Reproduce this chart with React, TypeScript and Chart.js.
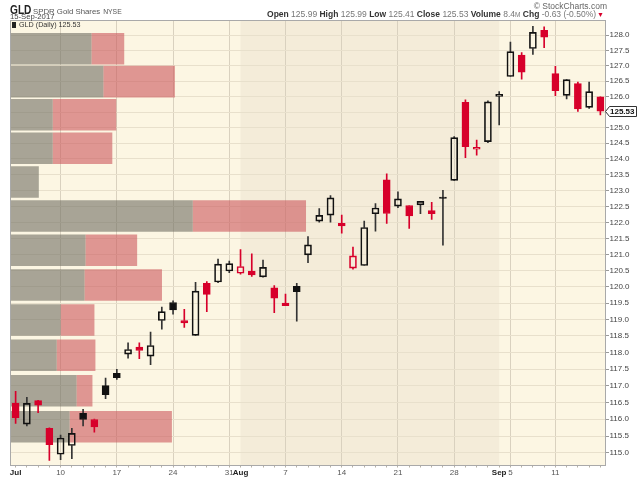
import React, { useEffect, useRef } from 'react';
import { Chart, registerables } from 'chart.js';

Chart.register(...registerables);

const FONT = '"Liberation Sans", Arial, sans-serif';

// ---- Data ----
const dates = [
  '2017-07-03', '2017-07-05', '2017-07-06', '2017-07-07', '2017-07-10', '2017-07-11', '2017-07-12',
  '2017-07-13', '2017-07-14', '2017-07-17', '2017-07-18', '2017-07-19', '2017-07-20', '2017-07-21',
  '2017-07-24', '2017-07-25', '2017-07-26', '2017-07-27', '2017-07-28', '2017-07-31',
  '2017-08-01', '2017-08-02', '2017-08-03', '2017-08-04', '2017-08-07', '2017-08-08', '2017-08-09',
  '2017-08-10', '2017-08-11', '2017-08-14', '2017-08-15', '2017-08-16', '2017-08-17', '2017-08-18',
  '2017-08-21', '2017-08-22', '2017-08-23', '2017-08-24', '2017-08-25', '2017-08-28', '2017-08-29',
  '2017-08-30', '2017-08-31',
  '2017-09-01', '2017-09-05', '2017-09-06', '2017-09-07', '2017-09-08', '2017-09-11', '2017-09-12',
  '2017-09-13', '2017-09-14', '2017-09-15',
];

const openP = [
  116.48, 115.85, 116.55, 115.73, 114.96, 115.22, 116.17, 115.99, 117.00, 117.37,
  117.95, 118.16, 117.89, 118.97, 119.52, 118.97, 118.52, 120.11, 120.15, 120.49,
  120.42, 120.49, 120.31, 119.97, 119.42, 120.02, 120.99, 122.04, 122.23, 121.97,
  120.58, 120.66, 122.27, 123.34, 122.51, 122.53, 122.55, 122.37, 122.75, 123.32,
  125.81, 124.31, 124.55, 126.00, 126.65, 127.35, 127.56, 128.16, 126.74, 126.04,
  126.42, 125.65, 125.99,
];
const highP = [
  116.83, 116.65, 116.56, 115.74, 115.53, 115.73, 116.29, 116.00, 117.23, 117.49,
  118.29, 118.29, 118.62, 119.38, 119.57, 119.31, 120.14, 120.16, 120.86, 120.80,
  121.15, 121.02, 120.83, 120.04, 119.78, 120.11, 121.56, 122.43, 122.84, 122.23,
  121.23, 122.04, 122.59, 123.53, 122.96, 122.53, 122.66, 122.63, 123.01, 124.71,
  125.89, 124.60, 125.86, 126.16, 127.77, 127.43, 128.29, 128.27, 126.98, 126.55,
  126.47, 126.47, 125.99,
];
const lowP = [
  115.87, 115.80, 116.19, 114.78, 114.80, 114.83, 115.80, 115.61, 116.61, 117.19,
  117.83, 117.81, 117.63, 118.71, 119.16, 118.76, 118.52, 119.24, 120.13, 120.44,
  120.39, 120.32, 120.30, 119.21, 119.42, 118.95, 120.75, 122.01, 122.01, 121.66,
  120.55, 120.66, 121.73, 121.97, 122.46, 121.81, 122.27, 122.09, 121.29, 123.32,
  124.04, 124.12, 124.52, 125.09, 126.65, 126.56, 127.37, 127.59, 126.03, 125.92,
  125.52, 125.62, 125.41,
];
const closeP = [
  116.04, 116.47, 116.42, 115.24, 115.44, 115.58, 115.99, 115.77, 116.73, 117.24,
  118.09, 118.06, 118.21, 119.24, 119.29, 118.90, 119.87, 119.77, 120.70, 120.72,
  120.63, 120.37, 120.60, 119.65, 119.50, 119.85, 121.30, 122.22, 122.77, 121.89,
  120.96, 121.84, 122.45, 122.28, 122.74, 122.20, 122.66, 122.27, 122.75, 124.68,
  124.39, 124.37, 125.83, 126.07, 127.46, 126.79, 128.09, 127.93, 126.19, 126.55,
  125.60, 126.16, 125.53,
];
const priorClose = 118.02;

// Volume-by-price zones, lowest zone first (millions of shares)
const vbpUpVolume = [6.0, 6.7, 4.7, 5.1, 7.5, 7.6, 18.4, 2.9, 4.3, 4.3, 9.4, 8.2];
const vbpDownVolume = [10.3, 1.6, 3.9, 3.4, 7.8, 5.2, 11.4, 0, 6.0, 6.4, 7.2, 3.3];

const xTickDates = [
  '2017-07-03', '2017-07-10', '2017-07-17', '2017-07-24', '2017-07-31', '2017-08-01', '2017-08-07',
  '2017-08-14', '2017-08-21', '2017-08-28', '2017-09-01', '2017-09-05', '2017-09-11',
];
const xTickLabels = ['Jul', '10', '17', '24', '31', 'Aug', '7', '14', '21', '28', 'Sep', '5', '11'];
const monthNames = ['Jul', 'Aug', 'Sep'];
const shadeFrom = '2017-08-01';
const shadeTo = '2017-09-01';

const yTicks = [
  115.0, 115.5, 116.0, 116.5, 117.0, 117.5, 118.0, 118.5, 119.0, 119.5, 120.0, 120.5, 121.0,
  121.5, 122.0, 122.5, 123.0, 123.5, 124.0, 124.5, 125.0, 125.5, 126.0, 126.5, 127.0, 127.5, 128.0,
];
const yMin = 114.63;
const yMax = 128.48;

// ---- Styles ----
const RED = '#d7002b';
const BLACK = '#111111';
const PLOT_BG = '#fcf6e3';
const BAND_BG = '#f4ecd9';

export default function App() {
  const ref = useRef<HTMLCanvasElement | null>(null);

  useEffect(() => {
    const canvas = ref.current;
    if (!canvas) return;

    const labelOf: Record<string, string> = {};
    xTickDates.forEach((d, i) => (labelOf[d] = xTickLabels[i]));
    const isMonth = (i: number) => monthNames.includes(labelOf[dates[i]] || '');
    const isWeek = (i: number) => {
      const l = labelOf[dates[i]];
      return !!l && !monthNames.includes(l);
    };

    const up = closeP.map((c, i) => c >= (i === 0 ? priorClose : closeP[i - 1]));
    const filled = closeP.map((c, i) => c <= openP[i]);
    const color = up.map((u) => (u ? BLACK : RED));
    const wickColor = up.map((u) => (u ? '#333333' : RED));

    const bodies = openP.map((o, i) => [o, closeP[i]]);
    const lowerWicks = lowP.map((l, i) => [l, Math.min(openP[i], closeP[i])]);
    const upperWicks = highP.map((h, i) => [Math.max(openP[i], closeP[i]), h]);

    const cMin = Math.min(...closeP);
    const cMax = Math.max(...closeP);
    const zoneStep = (cMax - cMin) / vbpUpVolume.length;
    const zoneMid = vbpUpVolume.map((_, k) => cMin + (k + 0.5) * zoneStep);
    const vbpTotal = vbpUpVolume.map((u, k) => u + vbpDownVolume[k]);

    const bgPlugin = {
      id: 'bgPlugin',
      beforeDraw(chart: any) {
        const { ctx, chartArea: a, scales } = chart;
        ctx.save();
        ctx.fillStyle = PLOT_BG;
        ctx.fillRect(a.left, a.top, a.right - a.left, a.bottom - a.top);
        const x0 = scales.x.getPixelForValue(dates.indexOf(shadeFrom));
        const x1 = scales.x.getPixelForValue(dates.indexOf(shadeTo));
        ctx.fillStyle = BAND_BG;
        ctx.fillRect(x0, a.top, x1 - x0, a.bottom - a.top);
        ctx.restore();
      },
      afterDraw(chart: any) {
        const { ctx, chartArea: a, scales } = chart;
        ctx.save();
        ctx.strokeStyle = '#a9a9a9';
        ctx.lineWidth = 1;
        const l = Math.floor(a.left) + 0.5;
        const t = Math.floor(a.top) + 0.5;
        const r = Math.ceil(a.right) - 0.5;
        const b = Math.floor(a.bottom) + 0.5;
        ctx.strokeRect(l, t, r - l, b - t);
        // last price tag
        const last = closeP[closeP.length - 1];
        const y = Math.round(scales.y.getPixelForValue(last)) + 0.5;
        const xl = Math.ceil(a.right) - 0.5;
        ctx.beginPath();
        ctx.moveTo(xl, y);
        ctx.lineTo(xl + 4, y - 5);
        ctx.lineTo(xl + 31, y - 5);
        ctx.lineTo(xl + 31, y + 5);
        ctx.lineTo(xl + 4, y + 5);
        ctx.closePath();
        ctx.fillStyle = '#ffffff';
        ctx.fill();
        ctx.strokeStyle = '#333333';
        ctx.stroke();
        ctx.fillStyle = '#111111';
        ctx.font = `bold 8px ${FONT}`;
        ctx.textBaseline = 'middle';
        ctx.textAlign = 'left';
        ctx.fillText(last.toFixed(2), xl + 4.5, y + 0.5);
        ctx.restore();
      },
    };

    const chart = new Chart(canvas, {
      type: 'bar',
      data: {
        labels: dates,
        datasets: [
          {
            label: 'Up volume',
            data: zoneMid.map((m, k) => ({ x: [0, vbpUpVolume[k]], y: m })) as any,
            indexAxis: 'y',
            xAxisID: 'xv',
            yAxisID: 'yv',
            backgroundColor: 'rgba(112,110,98,0.6)',
            grouped: false,
            categoryPercentage: 1,
            barPercentage: 0.96,
            order: 5,
          } as any,
          {
            label: 'Down volume',
            data: zoneMid.map((m, k) => ({ x: [vbpUpVolume[k], vbpTotal[k]], y: m })) as any,
            indexAxis: 'y',
            xAxisID: 'xv',
            yAxisID: 'yv',
            backgroundColor: 'rgba(204,86,92,0.6)',
            grouped: false,
            categoryPercentage: 1,
            barPercentage: 0.96,
            order: 5,
          } as any,
          {
            label: 'Lower wick',
            data: lowerWicks as any,
            xAxisID: 'x',
            yAxisID: 'y',
            backgroundColor: wickColor,
            borderWidth: 0,
            barThickness: 1,
            grouped: false,
            order: 2,
          } as any,
          {
            label: 'Upper wick',
            data: upperWicks as any,
            xAxisID: 'x',
            yAxisID: 'y',
            backgroundColor: wickColor,
            borderWidth: 0,
            barThickness: 1,
            grouped: false,
            order: 2,
          } as any,
          {
            label: 'Body',
            data: bodies as any,
            xAxisID: 'x',
            yAxisID: 'y',
            backgroundColor: color.map((c, i) => (filled[i] ? c : 'rgba(0,0,0,0)')),
            borderColor: color,
            borderWidth: 1,
            borderSkipped: false,
            barThickness: 7,
            minBarLength: 1.5,
            grouped: false,
            order: 1,
          } as any,
        ],
      },
      options: {
        animation: false,
        responsive: false,
        events: [],
        layout: { padding: { left: 10, top: 20.5, right: 0, bottom: 0 } },
        plugins: { legend: { display: false }, tooltip: { enabled: false }, title: { display: false } },
        scales: {
          x: {
            type: 'category',
            offset: true,
            afterFit: (s: any) => {
              s.height = 12.5;
            },
            grid: {
              offset: false,
              drawOnChartArea: true,
              color: (ctx: any) => (isWeek(ctx.index) ? '#d9d1bf' : 'rgba(0,0,0,0)'),
              tickColor: '#b5b0a5',
              tickLength: 2,
              lineWidth: 1,
            },
            border: { display: false },
            ticks: {
              autoSkip: false,
              maxRotation: 0,
              minRotation: 0,
              padding: 0,
              callback: (_v: any, i: number) => labelOf[dates[i]] || '',
              font: (ctx: any) => ({ family: FONT, size: 8, weight: isMonth(ctx.index) ? 'bold' : 'normal' }),
              color: (ctx: any) => (isMonth(ctx.index) ? '#222' : '#555'),
            },
          },
          y: {
            type: 'logarithmic',
            position: 'right',
            min: yMin,
            max: yMax,
            bounds: 'data',
            afterFit: (s: any) => {
              s.width = 34;
            },
            afterBuildTicks: (s: any) => {
              s.ticks = yTicks.map((v) => ({ value: v }));
            },
            grid: { color: '#e8e0cc', tickColor: '#999', tickLength: 3, lineWidth: 1 },
            border: { display: false },
            ticks: {
              padding: 0.5,
              autoSkip: false,
              callback: (v: any) => Number(v).toFixed(1),
              font: { family: FONT, size: 8 },
              color: '#444',
            },
          },
          xv: {
            axis: 'x',
            type: 'linear',
            display: false,
            offset: false,
            min: 0,
            max: 60,
            grid: { offset: false },
          },
          yv: {
            axis: 'y',
            type: 'logarithmic',
            display: false,
            offset: false,
            min: yMin,
            max: yMax,
            bounds: 'data',
            grid: { offset: false },
            afterBuildTicks: (s: any) => {
              s.ticks = zoneMid.map((v) => ({ value: v }));
            },
          },
        } as any,
      },
      plugins: [bgPlugin],
    } as any);

    return () => chart.destroy();
  }, []);

  return (
    <div
      style={{
        position: 'absolute',
        left: 0,
        top: 0,
        width: 640,
        height: 478,
        background: '#ffffff',
        overflow: 'hidden',
        fontFamily: FONT,
      }}
    >
      <canvas ref={ref} width={640} height={478} style={{ position: 'absolute', left: 0, top: 0, width: 640, height: 478 }} />
      <div style={{ position: 'absolute', left: 10, top: 2, lineHeight: '14px', whiteSpace: 'nowrap', color: '#555' }}>
        <span style={{ display: 'inline-block', fontWeight: 'bold', fontSize: 13, color: '#222', transform: 'scaleX(0.78)', transformOrigin: 'left', width: 21 }}>
          GLD
        </span>
        <span style={{ fontSize: 7.8, marginLeft: 2 }}>SPDR Gold Shares</span>
        <span style={{ fontSize: 6.8, marginLeft: 3 }}>NYSE</span>
      </div>
      <div style={{ position: 'absolute', left: 10, top: 12, fontSize: 7.7, lineHeight: '9px', color: '#444', whiteSpace: 'nowrap' }}>
        15-Sep-2017
      </div>
      <div style={{ position: 'absolute', right: 33, top: 1.5, fontSize: 8.5, lineHeight: '9px', color: '#666', whiteSpace: 'nowrap' }}>
        © StockCharts.com
      </div>
      <div style={{ position: 'absolute', right: 36, top: 10, fontSize: 8.5, lineHeight: '9.5px', color: '#777', whiteSpace: 'nowrap' }}>
        <b style={{ color: '#333' }}>Open</b> 125.99 <b style={{ color: '#333' }}>High</b> 125.99{' '}
        <b style={{ color: '#333' }}>Low</b> 125.41 <b style={{ color: '#333' }}>Close</b> 125.53{' '}
        <b style={{ color: '#333' }}>Volume</b> 8.4<span style={{ fontSize: 6.5 }}>M</span>{' '}
        <b style={{ color: '#333' }}>Chg</b> -0.63 (-0.50%)<span style={{ color: RED, fontSize: 7, marginLeft: 1 }}>▼</span>
      </div>
      <div style={{ position: 'absolute', left: 12, top: 21, fontSize: 7.2, lineHeight: '8px', color: '#333', whiteSpace: 'nowrap' }}>
        <span style={{ display: 'inline-block', width: 4, height: 6, background: '#222', marginRight: 3, verticalAlign: 'middle' }} />
        GLD (Daily) 125.53
      </div>
    </div>
  );
}
